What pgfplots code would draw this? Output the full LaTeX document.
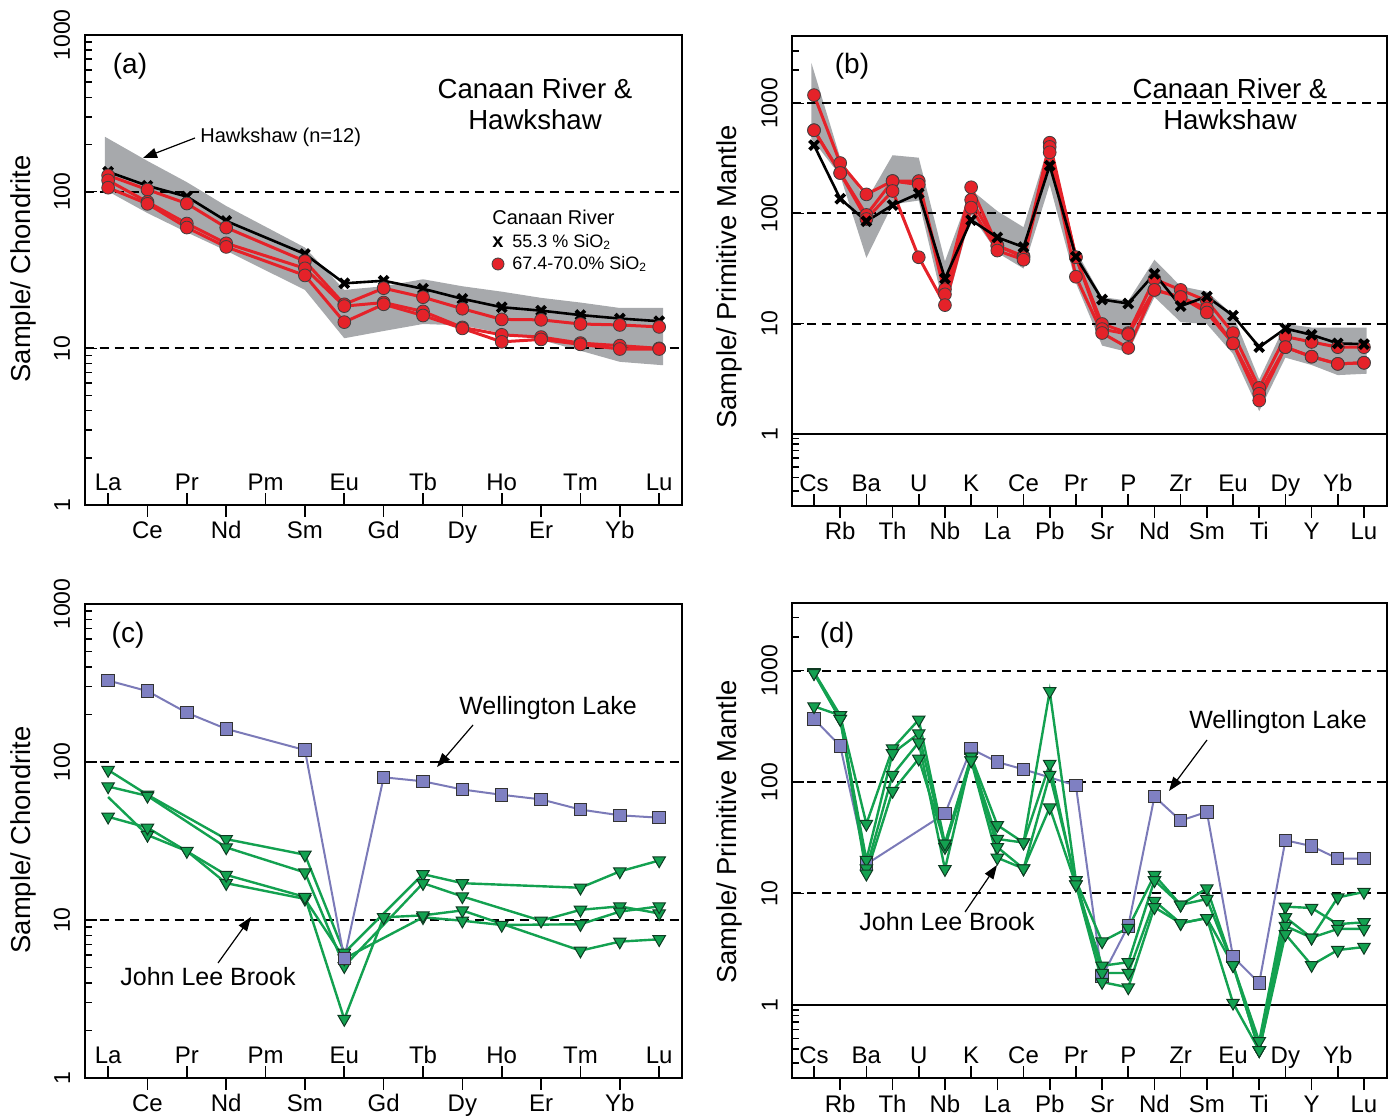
\documentclass[border=0pt]{standalone}
\usepackage{pgfplots}
\pgfplotsset{compat=1.18}
\usepackage{fontspec}
\setmainfont{Liberation Sans}
\usetikzlibrary{arrows.meta}
\definecolor{bandgray}{HTML}{A7A9AC}
\definecolor{redf}{HTML}{E52229}
\definecolor{purp}{HTML}{7B7AB8}
\definecolor{purpf}{HTML}{7F80C2}
\definecolor{grn}{HTML}{13A150}
\definecolor{grnd}{HTML}{0E3B22}
\pgfplotsset{
  mybase/.style={
    scale only axis,
    axis line style={line width=1pt},
    xtick pos=left, ytick pos=left,
    xtick align=outside, ytick align=inside,
    major tick length=6pt, minor tick length=3.5pt,
    every tick/.style={black, line width=0.8pt},
    tick label style={font=\fontsize{12}{14}\selectfont},
    xticklabel style={anchor=base, yshift=-11pt},
    yticklabel style={rotate=90, anchor=south, inner sep=0pt, font=\fontsize{11.5}{13}\selectfont},
    yticklabel shift=7pt,
    extra x tick style={xtick align=inside, every x tick label/.style={anchor=base, yshift=7.5pt}},
  },
  myree/.style={mybase, xmin=-0.6, xmax=14.58, ymin=1, ymax=1000,
    width=298.75pt, ytick={1,10,100,1000}, yticklabels={1,10,100,1000},
    minor ytick={2,3,4,5,6,7,8,9,200,300,400,500,600,700,800,900},
    xtick={1,3,5,7,9,11,13}, xticklabels={Ce,Nd,Sm,Gd,Dy,Er,Yb},
    extra x ticks={0,2,4,6,8,10,12,14}, extra x tick labels={La,Pr,Pm,Eu,Tb,Ho,Tm,Lu}},
  myspi/.style={mybase, xmin=-0.84, xmax=21.88, ymin=0.22, ymax=4050,
    width=297.5pt, ytick={1,10,100,1000}, yticklabels={1,10,100,1000},
    minor ytick={0.3,0.4,0.5,0.6,0.7,0.8,0.9,2000,3000},
    xtick={1,3,5,7,9,11,13,15,17,19,21}, xticklabels={Rb,Th,Nb,La,Pb,Sr,Nd,Sm,Ti,Y,Lu},
    extra x ticks={0,2,4,6,8,10,12,14,16,18,20}, extra x tick labels={Cs,Ba,U,K,Ce,Pr,P,Zr,Eu,Dy,Yb}},
}
\tikzset{
  dsh/.style={black, line width=1pt, dash pattern=on 4.5pt off 3pt},
  redl/.style={color=redf, line width=1.5pt, mark=*, mark size=3.2pt, mark options={fill=redf, draw=black!75, line width=0.4pt, solid}},
  blkl/.style={black, line width=1.3pt, mark=x, mark size=3.2pt, mark options={line width=1.9pt}},
  purl/.style={color=purp, line width=1pt, mark=square*, mark size=3.1pt, mark options={fill=purpf, draw=black!80, line width=0.5pt}},
  grnl/.style={color=grn, line width=1.2pt, mark=triangle*, mark size=3.6pt, mark options={rotate=180, fill=grn, draw=grnd, line width=0.5pt}},
}
\begin{document}
\begin{tikzpicture}
\useasboundingbox (0,0) rectangle (698pt,-558.5pt);
% ---------------- (a)
\begin{axis}[ymode=log, myree, at={(42.25pt,-252.5pt)}, anchor=south west, height=235pt]
\addplot[fill=bandgray, draw=none, forget plot] coordinates {(-0.08,224) (1,157) (2,115) (3,81) (5,44) (6,23.6) (7,24.9) (8,27.6) (9,24.9) (10,23) (11,21) (12,19.6) (13,18.1) (14.1,18.1)
 (14.1,7.8) (13,8.2) (12,9.65) (11,11.3) (10,12.5) (9,14) (8,14.3) (7,12.9) (6,11.6) (5,23.6) (3,42) (2,55) (1,73) (-0.08,103)} -- cycle;
\addplot[dsh, forget plot] coordinates {(-0.6,10) (14.58,10)};
\addplot[dsh, forget plot] coordinates {(-0.6,100) (14.58,100)};
\addplot[blkl] coordinates {(0,134) (1,109) (2,93) (3,65) (5,40) (6,26) (7,27) (8,24) (9,20.7) (10,18.3) (11,17.4) (12,16.3) (13,15.5) (14,14.9)};
\addplot[redl] coordinates {(0,127) (1,103) (2,84) (3,59) (5,36) (6,19.1) (7,24.2) (8,21.2) (9,17.9) (10,15.3) (11,15.2) (12,14.3) (13,14.1) (14,13.7)};
\addplot[redl] coordinates {(0,118) (1,86) (2,62.6) (3,46.8) (5,32.4) (6,18.6) (7,19.6) (8,17.2) (9,13.6) (10,12.2) (11,11.8) (12,10.8) (13,10.4) (14,10)};
\addplot[redl] coordinates {(0,106) (1,83.6) (2,59) (3,44.4) (5,29.2) (6,14.7) (7,19.1) (8,16.2) (9,13.4) (10,11) (11,11.4) (12,10.6) (13,9.9) (14,9.9)};
\end{axis}
% ---------------- (b)
\begin{axis}[ymode=log, myspi, at={(396pt,-253pt)}, anchor=south west, height=234.75pt]
\addplot[fill=bandgray, draw=none, forget plot] coordinates {(-0.1,2330) (1,321) (2,131) (3,338) (4,321) (5,36.7) (6,164) (7,105) (8,75) (9,450) (10,46) (11,17.4) (12,16.1) (13,38) (14,21.8) (15,19.5) (16,12) (17,3.1) (18,9.9) (19,9.2) (20,9.2) (21.1,9.2)
 (21.1,3.5) (20,3.4) (19,4.2) (18,4.9) (17,1.6) (16,5.3) (15,9.9) (14,10.3) (13,17.4) (12,5.5) (11,6.3) (10,23.4) (9,183) (8,31.6) (7,44) (6,97) (5,12.9) (4,131) (3,121) (2,39.5) (1,221) (-0.1,480)} -- cycle;
\addplot[dsh, forget plot] coordinates {(-0.84,10) (21.88,10)};
\addplot[dsh, forget plot] coordinates {(-0.84,100) (21.88,100)};
\addplot[dsh, forget plot] coordinates {(-0.84,1000) (21.88,1000)};
\addplot[black, line width=0.9pt, forget plot] coordinates {(-0.84,1) (21.88,1)};
\addplot[redl] coordinates {(0,1188) (1,287) (2,149) (3,197) (4,197) (5,20.5) (6,173) (7,51) (8,41) (9,439) (10,40) (11,9.9) (12,8.2) (13,25.3) (14,20.2) (15,16.1) (16,8.2) (17,2.6) (18,7.6) (19,6.8) (20,6.1) (21,6.1)};
\addplot[redl] coordinates {(0,570) (1,233) (2,97) (3,197) (4,183) (5,18.4) (6,133) (7,51) (8,40) (9,402) (10,40) (11,8.9) (12,8.0) (13,20.2) (14,17.4) (15,13.7) (16,6.6) (17,2.3) (18,6.1) (19,5.0) (20,4.3) (21,4.4)};
\addplot[redl] coordinates {(0,570) (1,233) (2,89) (3,160) (4,40) (5,14.7) (6,113) (7,46) (8,38) (9,359) (10,26.6) (11,8.2) (12,6.0) (13,20.2) (14,17.4) (15,12.6) (16,6.6) (17,2.0) (18,6.1) (19,5.0) (20,4.3) (21,4.4)};
\addplot[blkl] coordinates {(0,417) (1,136) (2,85) (3,119) (4,152) (5,25.6) (6,87) (7,60.6) (8,49.5) (9,272) (10,40.5) (11,16.5) (12,15.2) (13,28.3) (14,14.4) (15,17.6) (16,11.8) (17,6.1) (18,9.0) (19,7.9) (20,6.6) (21,6.5)};
\end{axis}
% ---------------- (c)
\begin{axis}[ymode=log, myree, at={(42.25pt,-539pt)}, anchor=south west, height=237pt]
\addplot[dsh, forget plot] coordinates {(-0.6,10) (14.58,10)};
\addplot[dsh, forget plot] coordinates {(-0.6,100) (14.58,100)};
\addplot[grnl] coordinates {(0,89) (1,62) (3,32.5) (5,25.9) (6,6.2) (8,19.5) (9,17.1) (12,16) (13,20.3) (14,23.8)};
\addplot[grnl] coordinates {(0,70) (1,61) (3,28.8) (5,20) (6,5.1) (8,17.1) (9,14.1) (11,9.9) (12,11.6) (13,12.2) (14,11)};
\addplot[grnl, mark indices={2,3,4,5,6,7,8,9,10,11,12}] coordinates {(0,60) (1,34.5) (2,27.3) (3,17.1) (5,13.6) (6,5.7) (8,10.4) (9,9.9) (10,9.3) (12,9.4) (13,11.3) (14,12.2)};
\addplot[grnl] coordinates {(0,45) (1,38.4) (3,19.3) (5,14) (6,2.36) (7,10.4) (8,10.7) (9,11.5) (12,6.4) (13,7.3) (14,7.55)};
\addplot[purl] coordinates {(0,328) (1,281) (2,205) (3,162) (5,119) (6,5.7) (7,80) (8,75.5) (9,67) (10,62) (11,58) (12,50) (13,46) (14,44.4)};
\end{axis}
% ---------------- (d)
\begin{axis}[ymode=log, myspi, at={(396pt,-539pt)}, anchor=south west, height=237.5pt]
\addplot[dsh, forget plot] coordinates {(-0.84,10) (21.88,10)};
\addplot[dsh, forget plot] coordinates {(-0.84,100) (21.88,100)};
\addplot[dsh, forget plot] coordinates {(-0.84,1000) (21.88,1000)};
\addplot[black, line width=0.9pt, forget plot] coordinates {(-0.84,1) (21.88,1)};
\addplot[purl] coordinates {(0,368) (1,211) (2,18.3) (5,52) (6,199) (7,151) (8,130) (10,93) (11,1.79) (12,5.1) (13,74) (14,45) (15,54) (16,2.7) (17,1.57) (18,30) (19,26.6) (20,20.5) (21,20.5)};
\addplot[grnl] coordinates {(0,970) (1,397) (2,42) (3,200) (4,363) (5,28) (6,169) (7,41) (8,28.6) (9,654) (10,13.1) (11,3.7) (12,4.9) (13,14.6) (14,7.9) (15,11.1) (16,2.27) (17,0.47) (18,7.6) (19,7.4) (20,5.3) (21,5.5)};
\addplot[grnl] coordinates {(0,950) (1,368) (2,20) (3,181) (4,273) (5,26) (6,156) (7,30.8) (8,28.6) (9,145) (10,12) (11,2.24) (12,2.41) (13,13.1) (14,7.9) (15,8.9) (16,2.27) (17,0.39) (18,6.1) (19,4.0) (20,9.2) (21,10.3)};
\addplot[grnl] coordinates {(0,478) (1,397) (2,16.7) (3,116) (4,227) (5,16.5) (6,169) (7,26) (8,16.7) (9,116) (10,13.1) (11,1.93) (12,1.93) (13,8.55) (14,5.4) (15,6.0) (16,1.04) (17,0.39) (18,5.1) (19,4.0) (20,4.8) (21,4.8)};
\addplot[grnl] coordinates {(0,950) (1,368) (2,15) (3,83) (4,162) (5,28) (6,156) (7,20.9) (8,16.7) (9,59) (10,12) (11,1.6) (12,1.43) (13,7.5) (14,5.4) (15,6.0) (16,2.27) (17,0.39) (18,4.3) (19,2.27) (20,3.1) (21,3.3)};
\end{axis}
% ---------------- annotations
\begin{scope}[x=0.5pt,y=-0.5pt]
\tikzset{lab/.style={rotate=90, font=\fontsize{13.7}{15}\selectfont},
  pan/.style={font=\fontsize{14}{16}\selectfont},
  ttl/.style={font=\fontsize{13.8}{15}\selectfont},
  ann/.style={font=\fontsize{12.5}{14}\selectfont},
  arr/.style={-{Triangle[length=7pt,width=5pt]}, line width=0.6pt}}
\node[lab] at (23,269) {Sample/ Chondrite};
\node[lab] at (729,277) {Sample/ Primitive Mantle};
\node[lab] at (23,840) {Sample/ Chondrite};
\node[lab] at (729,832) {Sample/ Primitive Mantle};
\node[pan] at (130,66) {(a)};
\node[pan] at (852,66) {(b)};
\node[pan] at (128,635) {(c)};
\node[pan] at (837,635) {(d)};
\node[ttl] at (535,89) {Canaan River \&};
\node[ttl] at (535,120) {Hawkshaw};
\node[ttl] at (1230,89) {Canaan River \&};
\node[ttl] at (1230,120) {Hawkshaw};
\node[font=\fontsize{10}{12}\selectfont, anchor=west, inner sep=0pt] at (200,137) {Hawkshaw (n=12)};
\draw[arr] (195,138) -- (143,158);
\node[font=\fontsize{10}{12}\selectfont, anchor=west, inner sep=0pt] at (492,217) {Canaan River};
\node[font=\fontsize{10}{12}\selectfont\bfseries, inner sep=0pt] at (498,242) {x};
\node[font=\fontsize{9}{11}\selectfont, anchor=west, inner sep=0pt] at (512,242) {55.3 \% SiO\textsubscript{2}};
\fill[redf, draw=black!75, line width=0.4pt] (498,264) circle (3pt);
\node[font=\fontsize{9}{11}\selectfont, anchor=west, inner sep=0pt] at (512,264) {67.4-70.0\% SiO\textsubscript{2}};
\node[ann] at (548,708) {Wellington Lake};
\draw[arr] (473,725) -- (437,767);
\node[ann] at (208,977) {John Lee Brook};
\draw[arr] (218,963) -- (251,917);
\node[ann] at (1278,722) {Wellington Lake};
\draw[arr] (1207,740) -- (1169,791);
\node[ann] at (947,922) {John Lee Brook};
\draw[arr] (965,912) -- (997,865);
\end{scope}
\end{tikzpicture}
\end{document}
